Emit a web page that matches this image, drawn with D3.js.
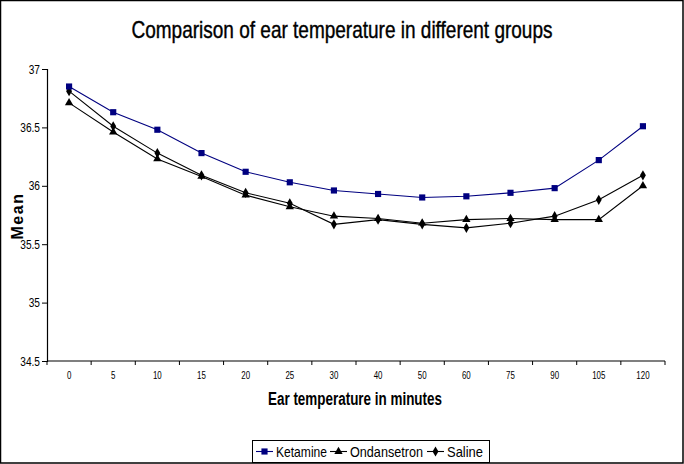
<!DOCTYPE html>
<html>
<head>
<meta charset="utf-8">
<script src="https://cdn.jsdelivr.net/npm/d3@7"></script>
<style>
  html, body { margin: 0; padding: 0; background: #fff; }
  svg { display: block; }
  text { font-family: "Liberation Sans", Arial, sans-serif; }
</style>
</head>
<body>
<svg id="chart" width="684" height="464"></svg>
<script>
const categories = ["0","5","10","15","20","25","30","40","50","60","75","90","105","120"];
const ketamine    = [36.85,36.63,36.48,36.28,36.12,36.03,35.96,35.93,35.90,35.91,35.94,35.98,36.22,36.51];
const ondansetron = [36.71,36.46,36.23,36.08,35.92,35.82,35.74,35.72,35.68,35.71,35.72,35.71,35.71,36.00];
const saline      = [36.81,36.51,36.28,36.09,35.94,35.85,35.67,35.71,35.67,35.64,35.68,35.74,35.88,36.09];
const yTicks = [34.5,35,35.5,36,36.5,37];
const seriesNames = ["Ketamine","Ondansetron","Saline"];

const svg = d3.select("#chart");
const W = 684, H = 464;

// frame
svg.append("rect").attr("x",0.5).attr("y",0.5).attr("width",W-1.5).attr("height",H-1.5)
  .attr("fill","#fff").attr("stroke","#000").attr("stroke-width",1.5);

const x = d3.scaleBand().domain(categories).range([47, 665]).padding(0);
const y = d3.scaleLinear().domain([34.5, 37]).range([361, 69]);

// title
svg.append("text").attr("x", 342).attr("y", 38).attr("text-anchor","middle")
  .attr("font-size", 24).attr("fill","#000").attr("stroke","#000").attr("stroke-width",0.4)
  .attr("textLength", 421).attr("lengthAdjust","spacingAndGlyphs")
  .text("Comparison of ear temperature in different groups");

// y axis
const yAxis = svg.append("g").attr("transform","translate(47,0)")
  .call(d3.axisLeft(y).tickValues(yTicks).tickSize(5).tickPadding(3).tickFormat(d3.format("")));
yAxis.select(".domain").attr("stroke","#000").attr("stroke-width",1.2);
yAxis.selectAll(".tick line").attr("stroke","#000");
yAxis.selectAll(".tick text").attr("font-size",13).attr("fill","#000")
  .attr("font-family",'"Liberation Sans",sans-serif')
  .attr("x", -9).attr("transform","scale(0.78,1)");

// x axis
const xg = svg.append("g").attr("transform","translate(0,361)");
xg.append("line").attr("x1",47).attr("x2",665).attr("y1",0).attr("y2",0).attr("stroke","#000").attr("stroke-width",1.2);
const bounds = categories.map(c => x(c)).concat([x(categories[categories.length-1]) + x.bandwidth()]);
xg.selectAll("line.tk").data(bounds).enter().append("line").attr("class","tk")
  .attr("x1",d=>d).attr("x2",d=>d).attr("y1",0).attr("y2",4).attr("stroke","#000");
xg.selectAll("text.tl").data(categories).enter().append("text").attr("class","tl")
  .attr("transform", d => `translate(${x(d) + x.bandwidth()/2},18) scale(0.72,1)`)
  .attr("text-anchor","middle")
  .attr("font-size", 11).attr("fill","#000").text(d => d);

// axis titles
svg.append("text").attr("x", 355).attr("y", 405).attr("text-anchor","middle")
  .attr("font-size", 18).attr("font-weight","bold").attr("fill","#000")
  .attr("textLength", 174).attr("lengthAdjust","spacingAndGlyphs")
  .text("Ear temperature in minutes");
svg.append("text").attr("transform","translate(23,216) rotate(-90)").attr("text-anchor","middle")
  .attr("font-size", 16).attr("font-weight","bold").attr("fill","#000")
  .attr("letter-spacing", 1.5)
  .text("Mean");

// series
const data = [
  {name: seriesNames[0], values: ketamine, color: "#000080", shape: "square"},
  {name: seriesNames[1], values: ondansetron, color: "#000000", shape: "triangle"},
  {name: seriesNames[2], values: saline, color: "#000000", shape: "diamond"}
];
const cx = i => x(categories[i]) + x.bandwidth()/2;
const line = d3.line().x((d,i) => cx(i)).y(d => y(d));
const symbols = {
  square: d3.symbol().type(d3.symbolSquare).size(38),
  triangle: d3.symbol().type(d3.symbolTriangle).size(30),
  diamond: d3.symbol().type(d3.symbolDiamond).size(30)
};

// draw black series first, Ketamine on top
[data[2], data[1], data[0]].forEach(s => {
  svg.append("path").datum(s.values).attr("d", line)
    .attr("fill","none").attr("stroke", s.color).attr("stroke-width", 1.1);
  svg.selectAll(null).data(s.values).enter().append("path")
    .attr("transform", (d,i) => `translate(${cx(i)},${y(d)})`)
    .attr("d", symbols[s.shape]()).attr("fill", s.color);
});

// legend
const lg = svg.append("g");
lg.append("rect").attr("x",252.5).attr("y",440.5).attr("width",237).attr("height",22)
  .attr("fill","#fff").attr("stroke","#000").attr("stroke-width",1);
const legendItems = [
  {s: data[0], lx: 256, tx: 276, tw: 51},
  {s: data[1], lx: 330, tx: 350, tw: 73},
  {s: data[2], lx: 427, tx: 447, tw: 36}
];
legendItems.forEach(it => {
  lg.append("line").attr("x1", it.lx).attr("x2", it.lx + 17).attr("y1", 451.5).attr("y2", 451.5)
    .attr("stroke", it.s.color).attr("stroke-width", 1.1);
  lg.append("path").attr("transform", `translate(${it.lx + 8.5},451.5)`)
    .attr("d", symbols[it.s.shape]()).attr("fill", it.s.color);
  lg.append("text").attr("x", it.tx).attr("y", 457).attr("font-size", 15).attr("fill","#000")
    .attr("textLength", it.tw).attr("lengthAdjust","spacingAndGlyphs")
    .text(it.s.name);
});
</script>
</body>
</html>
